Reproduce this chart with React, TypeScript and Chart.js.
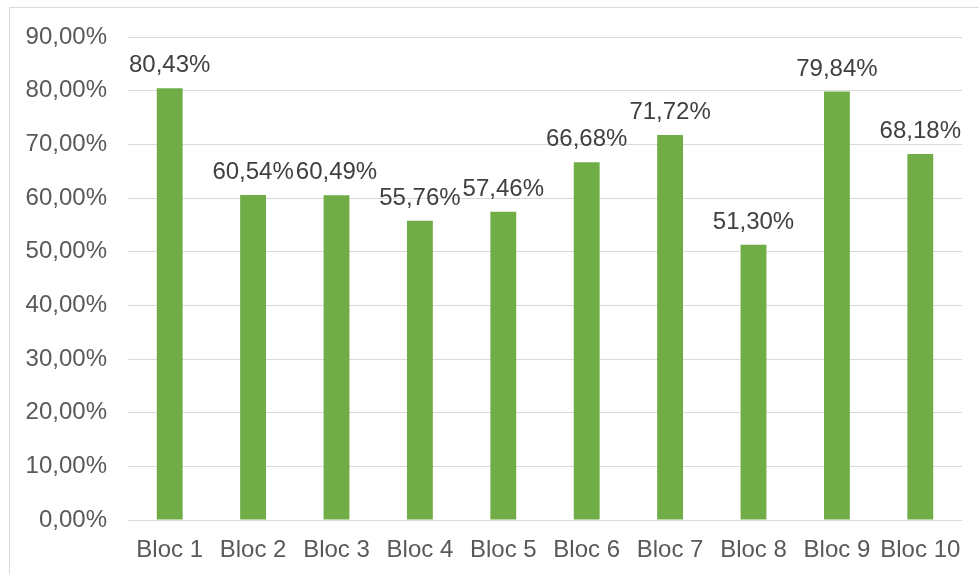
import React, { useEffect, useRef } from "react";
import { Chart, registerables } from "chart.js";

Chart.register(...registerables);

const categories = ["Bloc 1", "Bloc 2", "Bloc 3", "Bloc 4", "Bloc 5", "Bloc 6", "Bloc 7", "Bloc 8", "Bloc 9", "Bloc 10"];
const values = [80.43, 60.54, 60.49, 55.76, 57.46, 66.68, 71.72, 51.3, 79.84, 68.18];
const yMin = 0;
const yMax = 90;
const yStep = 10;

const FONT = "'Liberation Sans', Arial, sans-serif";
const fmt = (v: number) => v.toFixed(2).replace(".", ",") + "%";

const labelPlugin = {
  id: "barLabels",
  afterDatasetsDraw(chart: any) {
    const ctx = chart.ctx;
    const meta = chart.getDatasetMeta(0);
    ctx.save();
    ctx.font = `24px ${FONT}`;
    ctx.fillStyle = "#404040";
    ctx.textAlign = "center";
    ctx.textBaseline = "alphabetic";
    meta.data.forEach((bar: any, i: number) => {
      ctx.fillText(fmt(values[i]), bar.x, bar.y - 16);
    });
    ctx.restore();
  },
};

export default function App() {
  const ref = useRef<HTMLCanvasElement>(null);
  useEffect(() => {
    document.body.style.margin = "0";
    const chart = new Chart(ref.current!, {
      type: "bar",
      data: {
        labels: categories,
        datasets: [
          {
            data: values,
            backgroundColor: "#70AD47",
            borderWidth: 0,
            categoryPercentage: 1,
            barPercentage: 0.31,
          },
        ],
      },
      options: {
        animation: false,
        responsive: false,
        maintainAspectRatio: false,
        layout: { padding: { top: 37, right: 17, left: 0, bottom: 0 } },
        plugins: { legend: { display: false }, tooltip: { enabled: false } },
        scales: {
          x: {
            grid: { display: false, drawTicks: false },
            border: { display: false },
            ticks: {
              color: "#595959",
              font: { family: FONT, size: 24 },
              padding: 16,
              maxRotation: 0,
              autoSkip: false,
            },
            afterFit: (s: any) => {
              s.height = 54;
            },
          },
          y: {
            min: yMin,
            max: yMax,
            grid: { color: "#d9d9d9", lineWidth: 1, drawTicks: false },
            border: { display: false },
            ticks: {
              stepSize: yStep,
              color: "#595959",
              font: { family: FONT, size: 24 },
              padding: 21,
              callback: (v: any) => fmt(Number(v)),
            },
            afterFit: (s: any) => {
              s.width = 128;
            },
          },
        },
      },
      plugins: [labelPlugin],
    });
    return () => chart.destroy();
  }, []);
  return (
    <div style={{ position: "relative", width: 979, height: 574, overflow: "hidden", background: "#fff" }}>
      <div
        style={{
          position: "absolute",
          left: 9,
          top: 7,
          width: 1100,
          height: 700,
          border: "1px solid #d9d9d9",
          boxSizing: "border-box",
        }}
      />
      <canvas ref={ref} width={979} height={574} style={{ position: "absolute", left: 0, top: 0, width: 979, height: 574 }} />
    </div>
  );
}
